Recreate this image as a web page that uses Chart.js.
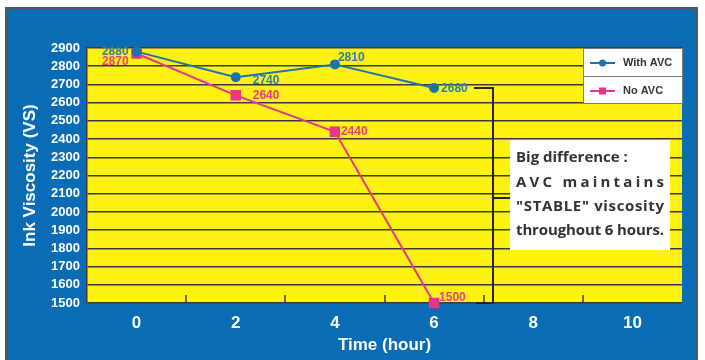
<!DOCTYPE html>
<html lang="en">
<head>
    <meta charset="UTF-8">
    <title>Ink Viscosity - AVC</title>
    <script src="https://cdn.jsdelivr.net/npm/chart.js"></script>
    <style>
        html, body {
            margin: 0;
            padding: 0;
            background: #ffffff;
        }
        .wrap {
            width: 705px;
            height: 360px;
        }
    </style>
</head>
<body>
    <div class="wrap">
        <canvas id="chart" width="705" height="360"></canvas>
    </div>

    <script>
        // Data
        const hours = [0, 2, 4, 6];
        const withAvc = [2880, 2740, 2810, 2680];
        const noAvc = [2870, 2640, 2440, 1500];
        const seriesNames = ['With AVC', 'No AVC'];
        const xTicks = [0, 2, 4, 6, 8, 10];
        const noteLines = ['Big difference :', 'AVC maintains', '"STABLE" viscosity', 'throughout 6 hours.'];

        // Colours
        const BLUE_BG = '#0a6cb4';
        const YELLOW = '#fff213';
        const LINE_BLUE = '#1c73ad';
        const LINE_PINK = '#e8368a';
        const TEXT_BLUE = '#2a80a6';
        const TEXT_PINK = '#e8407e';
        const SANS = '"Liberation Sans", Arial, sans-serif';

        // where each value label sits relative to its point [dx, dy, align]
        const labelPlace = [
            [[-8, 0, 'right'], [17, 4, 'left'], [3, -7, 'left'], [7, 1, 'left']],
            [[-8, 8, 'right'], [17, 0, 'left'], [6, 0, 'left'], [5, -5, 'left']]
        ];

        const panelPlugin = {
            id: 'panel',
            beforeDraw(chart) {
                const {ctx, chartArea: a} = chart;
                ctx.save();
                ctx.fillStyle = '#ffffff';
                ctx.fillRect(0, 0, chart.width, chart.height);
                ctx.fillStyle = '#555555';
                ctx.fillRect(5, 7, 693, 353);
                ctx.fillStyle = BLUE_BG;
                ctx.fillRect(7, 9, 689, 351);
                ctx.fillStyle = YELLOW;
                ctx.fillRect(a.left, a.top, a.right - a.left, a.bottom - a.top);
                ctx.restore();
            }
        };

        // spread the characters of a line so it fills the given width
        function spreadLine(ctx, text, x, y, width) {
            const chars = text.split('');
            const total = chars.reduce((s, c) => s + ctx.measureText(c).width, 0);
            const gap = (width - total) / (chars.length - 1);
            let cx = x;
            chars.forEach(c => { ctx.fillText(c, cx, y); cx += ctx.measureText(c).width + gap; });
        }

        const extrasPlugin = {
            id: 'extras',
            afterDraw(chart) {
                const {ctx, chartArea: a, scales} = chart;
                const xs = scales.x;
                ctx.save();

                // small tick marks at odd hours
                ctx.strokeStyle = '#3a3a3a';
                ctx.lineWidth = 1.5;
                for (let v = 1; v <= 9; v += 2) {
                    const px = Math.round(xs.getPixelForValue(v));
                    ctx.beginPath();
                    ctx.moveTo(px, a.bottom);
                    ctx.lineTo(px, a.bottom - 8);
                    ctx.stroke();
                }

                // value labels
                ctx.font = 'bold 12px ' + SANS;
                ctx.textBaseline = 'middle';
                [withAvc, noAvc].forEach((vals, di) => {
                    const meta = chart.getDatasetMeta(di);
                    ctx.fillStyle = di === 0 ? TEXT_BLUE : TEXT_PINK;
                    vals.forEach((v, i) => {
                        const p = meta.data[i];
                        const [dx, dy, al] = labelPlace[di][i];
                        ctx.textAlign = al;
                        ctx.fillText(String(v), p.x + dx, p.y + dy);
                    });
                });

                // bracket from last "With AVC" point down to the axis
                const last = chart.getDatasetMeta(0).data[3];
                const bx = 493;
                ctx.strokeStyle = '#222222';
                ctx.lineWidth = 2;
                ctx.beginPath();
                ctx.moveTo(last.x + 40, last.y);
                ctx.lineTo(bx, last.y);
                ctx.lineTo(bx, a.bottom);
                ctx.lineTo(bx - 17, a.bottom);
                ctx.moveTo(bx, 198);
                ctx.lineTo(510, 198);
                ctx.stroke();

                // legend
                const lx = 583, ly = 48, lw = 99, rowH = 28;
                ctx.fillStyle = '#ffffff';
                ctx.fillRect(lx, ly, lw, rowH * 2);
                ctx.strokeStyle = '#7a7a7a';
                ctx.lineWidth = 1;
                ctx.strokeRect(lx + 0.5, ly + 0.5, lw, rowH);
                ctx.strokeRect(lx + 0.5, ly + rowH + 0.5, lw, rowH - 1);
                ctx.font = 'bold 11px ' + SANS;
                ctx.textAlign = 'left';
                ctx.textBaseline = 'middle';
                seriesNames.forEach((name, i) => {
                    const cy = ly + 15 + i * rowH;
                    const col = i === 0 ? LINE_BLUE : LINE_PINK;
                    ctx.strokeStyle = col;
                    ctx.lineWidth = 2;
                    ctx.beginPath();
                    ctx.moveTo(590, cy);
                    ctx.lineTo(615, cy);
                    ctx.stroke();
                    ctx.fillStyle = col;
                    if (i === 0) {
                        ctx.beginPath();
                        ctx.arc(602.5, cy, 3.5, 0, Math.PI * 2);
                        ctx.fill();
                    } else {
                        ctx.fillRect(599, cy - 3.5, 7, 7);
                    }
                    ctx.fillStyle = '#333333';
                    ctx.fillText(name, 623, cy);
                });

                // note box
                ctx.fillStyle = '#ffffff';
                ctx.fillRect(510, 140, 160, 110);
                ctx.fillStyle = '#333333';
                ctx.font = 'bold 15px "Open Sans", "Noto Sans", sans-serif';
                ctx.textAlign = 'left';
                ctx.textBaseline = 'middle';
                ctx.fillText(noteLines[0], 516, 158);
                spreadLine(ctx, noteLines[1], 516, 183, 148);
                spreadLine(ctx, noteLines[2], 516, 207, 148);
                spreadLine(ctx, noteLines[3], 516, 231, 148);

                ctx.restore();
            }
        };

        new Chart(document.getElementById('chart'), {
            type: 'line',
            data: {
                datasets: [
                    {
                        label: seriesNames[0],
                        data: hours.map((h, i) => ({x: h, y: withAvc[i]})),
                        borderColor: LINE_BLUE,
                        backgroundColor: LINE_BLUE,
                        borderWidth: 2,
                        pointStyle: 'circle',
                        pointRadius: 4,
                        tension: 0,
                        clip: false
                    },
                    {
                        label: seriesNames[1],
                        data: hours.map((h, i) => ({x: h, y: noAvc[i]})),
                        borderColor: LINE_PINK,
                        backgroundColor: LINE_PINK,
                        borderWidth: 2,
                        pointStyle: 'rect',
                        pointRadius: 6,
                        tension: 0,
                        clip: false
                    }
                ]
            },
            options: {
                responsive: false,
                animation: false,
                layout: {
                    padding: {top: 48, right: 23, left: 0, bottom: 0}
                },
                plugins: {
                    legend: {display: false},
                    tooltip: {enabled: false}
                },
                scales: {
                    x: {
                        type: 'linear',
                        min: -1,
                        max: 11,
                        afterFit: s => { s.height = 57; },
                        afterBuildTicks: s => { s.ticks = xTicks.map(v => ({value: v})); },
                        grid: {display: false, drawTicks: false},
                        border: {display: false},
                        ticks: {
                            color: '#ffffff',
                            font: {family: SANS, size: 17, weight: 'bold'},
                            padding: 10,
                            maxRotation: 0,
                            autoSkip: false
                        },
                        title: {
                            display: true,
                            text: 'Time (hour)',
                            color: '#ffffff',
                            font: {family: SANS, size: 17, weight: 'bold'},
                            padding: {top: 0, bottom: 4}
                        }
                    },
                    y: {
                        min: 1500,
                        max: 2900,
                        afterFit: s => { s.width = 87; },
                        grid: {
                            color: '#3a3a3a',
                            lineWidth: 1.5,
                            drawTicks: false
                        },
                        border: {display: true, color: '#3a3a3a', width: 1.5},
                        ticks: {
                            stepSize: 100,
                            autoSkip: false,
                            callback: v => String(v),
                            color: '#ffffff',
                            font: {family: SANS, size: 13, weight: 'bold'},
                            padding: 7
                        },
                        title: {
                            display: true,
                            text: 'Ink Viscosity (VS)',
                            color: '#ffffff',
                            font: {family: SANS, size: 17, weight: 'bold'},
                            padding: {top: 20, bottom: 0}
                        }
                    }
                }
            },
            plugins: [panelPlugin, extrasPlugin]
        });
    </script>
</body>
</html>
